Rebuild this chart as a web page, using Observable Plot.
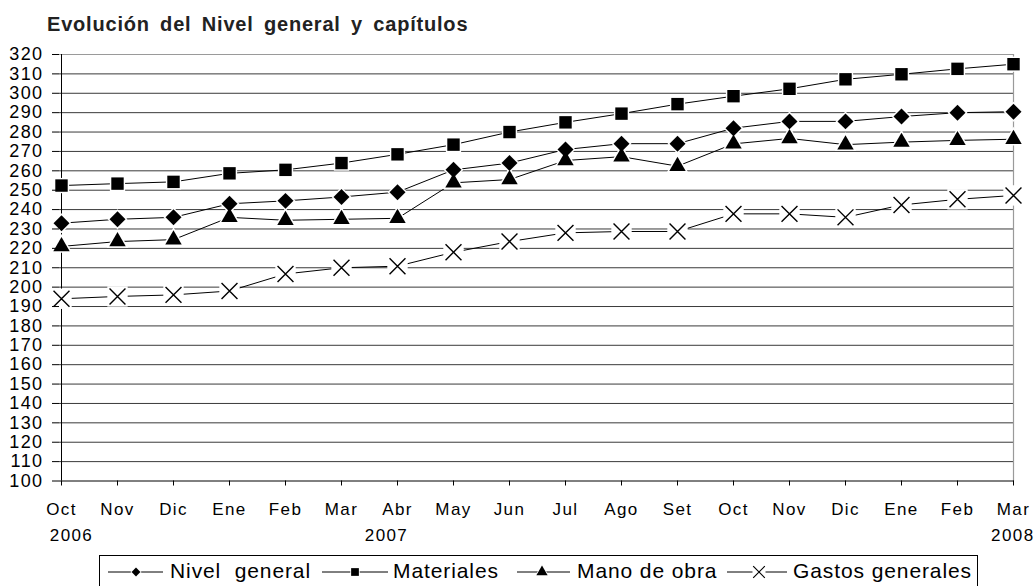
<!DOCTYPE html>
<html><head><meta charset="utf-8">
<script src="https://cdn.jsdelivr.net/npm/d3@7"></script>
<script src="https://cdn.jsdelivr.net/npm/@observablehq/plot@0.6"></script>
<style>
body{margin:0;background:#fff;font-family:"Liberation Sans",Arial,sans-serif;}
#wrap{position:relative;width:1036px;height:586px;overflow:hidden;background:#fff}
#title{position:absolute;left:47px;top:14px;font-size:20px;font-weight:bold;line-height:20px;letter-spacing:0.8px;word-spacing:4px;color:#222;white-space:nowrap}
#chart{position:absolute;left:0;top:40px}
#legend{position:absolute;left:99px;top:555px;width:879px;height:45px;border:1px solid #000;box-sizing:border-box;background:#fff}
#legend span{position:absolute;top:4px;font-size:21px;line-height:21px;letter-spacing:0.9px;white-space:pre;color:#000}
#legend svg{position:absolute;left:0;top:0}
</style>
</head><body>
<div id="wrap">
<div id="title">Evolución del Nivel general y capítulos</div>
<div id="chart"></div>
<div id="legend"></div>
</div>
<script>
// ---- data ----
const months = ["Oct","Nov","Dic","Ene","Feb","Mar","Abr","May","Jun","Jul","Ago","Set","Oct","Nov","Dic","Ene","Feb","Mar"];
const years  = [2006,2006,2006,2007,2007,2007,2007,2007,2007,2007,2007,2007,2007,2007,2007,2008,2008,2008];
const yearLabels = ["2006","2007","2008"];
const seriesNames = ["Nivel  general","Materiales","Mano de obra","Gastos generales"];
const nivel      = [233, 235, 236, 243, 244.5, 246.5, 249, 260.5, 264, 271, 274, 274, 282, 285.5, 285.5, 288, 290, 290.5];
const materiales = [252.4, 253.4, 254.3, 258.7, 260.5, 264, 268.5, 273.5, 280, 285, 289.5, 294.4, 298.5, 302.3, 307.2, 309.8, 312.6, 315];
const mano       = [221, 223.5, 224.5, 236, 234.5, 235, 235.5, 253.8, 255.5, 265.3, 267.3, 262.4, 273.9, 276.7, 273.5, 274.8, 275.7, 276.3];
const gastos     = [194, 195.2, 196, 198, 206.8, 210, 210.8, 218, 223.5, 228, 228.7, 228.7, 237.8, 237.8, 236, 242.4, 245.3, 247.3];
const yTicks = [100,110,120,130,140,150,160,170,180,190,200,210,220,230,240,250,260,270,280,290,300,310,320];

// ---- build table ----
const keys = months.map((m, i) => m + " " + years[i]);
const valuesBySeries = [nivel, materiales, mano, gastos];
const symbols = ["diamond2", "square", "triangle", "times"];
const data = [];
valuesBySeries.forEach((vals, s) => vals.forEach((v, i) => data.push({series: seriesNames[s], s, key: keys[i], value: v})));
const bySeries = s => data.filter(d => d.s === s);

const markerR = [7.2, 7.0, 6.1, 7.3];
const haloR   = [9.0, 8.6, 8.0, 11.5];
const haloSym = ["diamond2", "square", "triangle", "square"];

const marks = [
  Plot.ruleY(yTicks.filter(t => t > 100 && t < 320), {stroke: "#3a3a3a", strokeWidth: 1}),
  Plot.ruleY([yTicks[yTicks.length - 1]], {stroke: "#9a9a9a", strokeWidth: 1.2}),
  Plot.ruleX([keys[keys.length - 1]], {stroke: "#9a9a9a", strokeWidth: 1.2}),
  Plot.ruleX([keys[0]], {stroke: "#000", strokeWidth: 1}),
  Plot.ruleY([yTicks[0]], {stroke: "#000", strokeWidth: 1}),
  Plot.line(data, {x: "key", y: "value", z: "series", stroke: "#000", strokeWidth: 1})
];
[0,1,2,3].forEach(s => {
  marks.push(Plot.dot(bySeries(s), {x: "key", y: "value", symbol: () => haloSym[s], r: haloR[s], fill: "#fff", stroke: "none"}));
});
[0,1,2].forEach(s => {
  marks.push(Plot.dot(bySeries(s), {x: "key", y: "value", symbol: () => symbols[s], r: markerR[s], fill: "#000", stroke: "none"}));
});
marks.push(Plot.dot(bySeries(3), {x: "key", y: "value", symbol: () => "times", r: markerR[3], fill: "none", stroke: "#000", strokeWidth: 1.4}));

marks.push(
  Plot.axisY({ticks: yTicks, tickSize: 7, tickPadding: 9, label: null, fontSize: 18, tickFormat: d => String(d)}),
  Plot.axisX({tickSize: 5, tickPadding: 16.5, label: null, tickFormat: d => d.split(" ")[0]}),
  Plot.text([{k: keys[0], t: yearLabels[0]}], {x: "k", text: "t", frameAnchor: "bottom", dy: 59.5, dx: 10, clip: false}),
  Plot.text([{k: keys[6], t: yearLabels[1]}], {x: "k", text: "t", frameAnchor: "bottom", dy: 59.5, dx: -11, clip: false}),
  Plot.text([{k: keys[17], t: yearLabels[2]}], {x: "k", text: "t", frameAnchor: "bottom", dy: 59.5, dx: 21, textAnchor: "end", clip: false})
);

const chart = Plot.plot({
  width: 1036,
  height: 516,
  marginTop: 14,
  marginBottom: 75.5,
  marginLeft: 59,
  marginRight: 22,
  style: {fontFamily: "'Liberation Sans', Arial, sans-serif", fontSize: "17px", letterSpacing: "1.4px", color: "#000", background: "#fff", overflow: "visible"},
  x: {type: "point", domain: keys, padding: 0},
  y: {domain: [100, 320], ticks: yTicks},
  symbol: {type: "identity"},
  marks
});
document.getElementById("chart").appendChild(chart);

// ---- legend (layout only) ----
const legendItems = [
  {line: [108, 163], sym: 136, text: 170, size: 50},
  {line: [322, 388], sym: 355, text: 393, size: 60},
  {line: [517, 570], sym: 542, text: 577, size: 55},
  {line: [727, 787], sym: 759, text: 793, size: 90}
];
const legend = d3.select("#legend");
const lsvg = legend.append("svg").attr("width", 879).attr("height", 45);
const ox = 100, oy = 556;
legendItems.forEach((it, s) => {
  const y = 572 - oy;
  lsvg.append("line").attr("x1", it.line[0] - ox).attr("x2", it.line[1] - ox).attr("y1", y).attr("y2", y).attr("stroke", "#000").attr("stroke-width", 1);
  const symMap = {diamond2: d3.symbolDiamond2, square: d3.symbolSquare, triangle: d3.symbolTriangle, times: d3.symbolTimes};
  lsvg.append("path").attr("transform", `translate(${it.sym - ox},${y})`)
    .attr("d", d3.symbol(s === 3 ? d3.symbolSquare : symMap[symbols[s]], s === 3 ? 170 : it.size + 30)())
    .attr("fill", "#fff");
  const p = lsvg.append("path").attr("transform", `translate(${it.sym - ox},${y})`)
    .attr("d", d3.symbol(symMap[symbols[s]], it.size)());
  if (s === 3) p.attr("fill", "none").attr("stroke", "#000").attr("stroke-width", 1.2);
  else p.attr("fill", "#000");
  legend.append("span").style("left", (it.text - ox) + "px").text(seriesNames[s]);
});
</script>
</body></html>
